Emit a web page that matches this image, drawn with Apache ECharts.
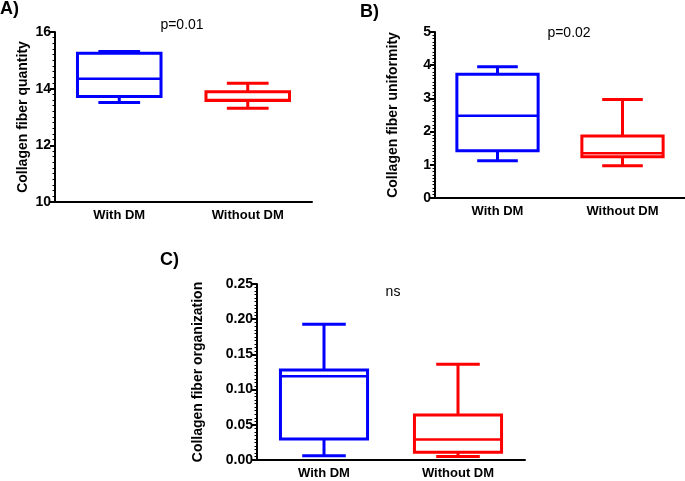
<!DOCTYPE html>
<html>
<head>
<meta charset="utf-8">
<script src="https://cdn.jsdelivr.net/npm/echarts@6/dist/echarts.min.js"></script>
<style>html,body{margin:0;padding:0;background:#fff}#c{width:685px;height:481px}</style>
</head>
<body>
<div id="c"></div>
<script>
// Data: [min, Q1, median, Q3, max]
var categories = ['With DM', 'Without DM'];
var quantityWithDM = [13.51, 13.72, 14.35, 15.25, 15.31];
var quantityWithoutDM = [13.31, 13.58, 13.60, 13.89, 14.19];
var uniformityWithDM = [1.12, 1.42, 2.48, 3.73, 3.95];
var uniformityWithoutDM = [0.97, 1.24, 1.35, 1.87, 2.97];
var organizationWithDM = [0.006, 0.030, 0.119, 0.128, 0.193];
var organizationWithoutDM = [0.005, 0.011, 0.029, 0.064, 0.136];
var yTicksA = [10, 16, 2];
var yTicksB = [0, 5, 1];
var yTicksC = [0, 0.25, 0.05];
var panelLabels = ['A)', 'B)', 'C)'];
var annotations = ['p=0.01', 'p=0.02', 'ns'];
var yTitles = ['Collagen fiber quantity', 'Collagen fiber uniformity', 'Collagen fiber organization'];
var colors = ['#0000ff', '#ff0000'];

var FONT = '"Liberation Sans", Arial, sans-serif';

function renderBox(params, api) {
  var ci = api.value(0);
  var vals = [api.value(1), api.value(2), api.value(3), api.value(4), api.value(5)];
  var band = api.size([1, 0])[0];
  var bw = band * 0.65, half = bw / 2, cap = bw / 4;
  var pts = vals.map(function (v) { return api.coord([ci, v]); });
  var cx = pts[0][0];
  var col = colors[ci];
  var st = { stroke: col, lineWidth: 3, fill: null };
  var yMin = pts[0][1], yQ1 = pts[1][1], yMed = pts[2][1], yQ3 = pts[3][1], yMax = pts[4][1];
  return {
    type: 'group',
    children: [
      { type: 'line', shape: { x1: cx, y1: yQ1, x2: cx, y2: yMin }, style: st },
      { type: 'line', shape: { x1: cx, y1: yQ3, x2: cx, y2: yMax }, style: st },
      { type: 'line', shape: { x1: cx - cap, y1: yMin, x2: cx + cap, y2: yMin }, style: st },
      { type: 'line', shape: { x1: cx - cap, y1: yMax, x2: cx + cap, y2: yMax }, style: st },
      { type: 'rect', shape: { x: cx - half, y: yQ3, width: bw, height: yQ1 - yQ3 }, style: { stroke: col, lineWidth: 3, fill: '#fff' } },
      { type: 'line', shape: { x1: cx - half, y1: yMed, x2: cx + half, y2: yMed }, style: { stroke: col, lineWidth: 2.5 } }
    ]
  };
}

var grids = [
  { left: 55, top: 32, width: 257, height: 170 },
  { left: 435, top: 32, width: 250, height: 166 },
  { left: 257, top: 284, width: 268, height: 176 }
];
var yTicks = [yTicksA, yTicksB, yTicksC];
var decimals = [0, 0, 2];
var nameGaps = [25, 35, 52];

var xAxes = [], yAxes = [], series = [];
var groups = [
  [quantityWithDM, quantityWithoutDM],
  [uniformityWithDM, uniformityWithoutDM],
  [organizationWithDM, organizationWithoutDM]
];
for (var i = 0; i < 3; i++) {
  xAxes.push({
    type: 'category', gridIndex: i, data: categories, boundaryGap: true,
    axisLine: { lineStyle: { color: '#000', width: 2 } },
    axisTick: { alignWithLabel: true, length: 5, lineStyle: { color: '#000', width: 2 } },
    axisLabel: { color: '#000', fontFamily: FONT, fontWeight: 'bold', fontSize: 13, margin: 7 },
    splitLine: { show: false }
  });
  (function (d) {
    yAxes.push({
      type: 'value', gridIndex: i, min: yTicks[i][0], max: yTicks[i][1], interval: yTicks[i][2],
      name: yTitles[i], nameLocation: 'middle', nameGap: nameGaps[i],
      nameTextStyle: { color: '#000', fontFamily: FONT, fontWeight: 'bold', fontSize: 14 },
      axisLine: { show: true, lineStyle: { color: '#000', width: 2 } },
      axisTick: { show: true, length: 5, lineStyle: { color: '#000', width: 2 } },
      minorTick: { show: true, splitNumber: 10, length: 2.5, lineStyle: { color: '#000', width: 1 } },
      axisLabel: { color: '#000', fontFamily: FONT, fontWeight: 'bold', fontSize: 14, margin: 4,
        formatter: function (v) { return v.toFixed(d); } },
      splitLine: { show: false }
    });
  })(decimals[i]);
  var data = groups[i].map(function (g, k) { return [k].concat(g); });
  series.push({
    type: 'custom', xAxisIndex: i, yAxisIndex: i, renderItem: renderBox,
    encode: { x: 0, y: [1, 2, 3, 4, 5] }, data: data, silent: true
  });
}

var graphic = [
  { type: 'text', left: 0, top: 0, style: { text: panelLabels[0], font: 'bold 18px ' + FONT, fill: '#000' } },
  { type: 'text', left: 360, top: 3, style: { text: panelLabels[1], font: 'bold 18px ' + FONT, fill: '#000' } },
  { type: 'text', left: 160, top: 251, style: { text: panelLabels[2], font: 'bold 18px ' + FONT, fill: '#000' } },
  { type: 'text', x: 182, y: 25, style: { text: annotations[0], font: '14px ' + FONT, fill: '#000', align: 'center', verticalAlign: 'middle' } },
  { type: 'text', x: 569, y: 33, style: { text: annotations[1], font: '14px ' + FONT, fill: '#000', align: 'center', verticalAlign: 'middle' } },
  { type: 'text', x: 393, y: 292, style: { text: annotations[2], font: '14px ' + FONT, fill: '#000', align: 'center', verticalAlign: 'middle' } }
];

var chart = echarts.init(document.getElementById('c'), null, { renderer: 'canvas' });
chart.setOption({
  animation: false,
  backgroundColor: '#fff',
  grid: grids,
  xAxis: xAxes,
  yAxis: yAxes,
  series: series,
  graphic: graphic
});
</script>
</body>
</html>
